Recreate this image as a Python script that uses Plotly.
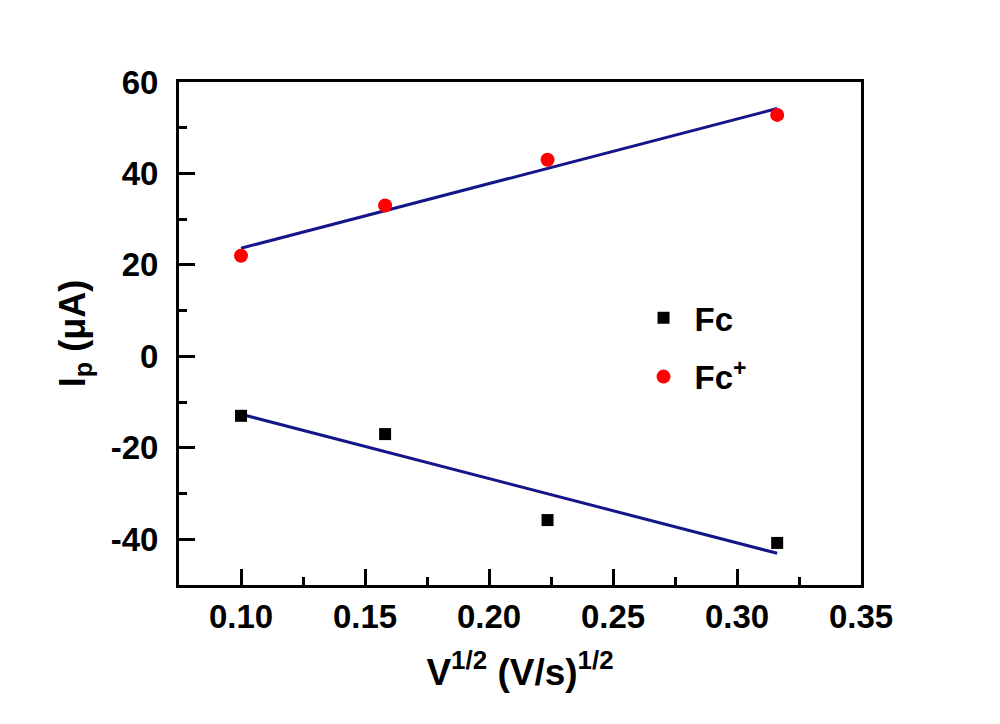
import numpy as np
import plotly.graph_objects as go

sqrt_v = [0.1, 0.1581, 0.2236, 0.3162]
fc_plus = [22, 33, 43, 52.8]
fc = [-13, -17, -35.8, -40.8]
x_ticks = [0.10, 0.15, 0.20, 0.25, 0.30, 0.35]
y_ticks = [-40, -20, 0, 20, 40, 60]

FONT = "Liberation Sans, Arial, sans-serif"
fig = go.Figure()

def fit(x, y):
    k, b = np.polyfit(x, y, 1)
    xs = [min(x), max(x)]
    return xs, [k * v + b for v in xs]

for ys in (fc_plus, fc):
    xs, yl = fit(sqrt_v, ys)
    fig.add_trace(go.Scatter(x=xs, y=yl, mode="lines", line=dict(color="#15158a", width=3),
                             showlegend=False, hoverinfo="skip"))

fig.add_trace(go.Scatter(x=sqrt_v, y=fc, mode="markers", name="Fc", legendgroup="a",
                         marker=dict(symbol="square", size=12, color="black")))
fig.add_trace(go.Scatter(x=sqrt_v, y=fc_plus, mode="markers", name="Fc<sup>+</sup>", legendgroup="b",
                         marker=dict(symbol="circle", size=14, color="#ff0000")))

axis_common = dict(showline=True, linewidth=3, linecolor="black", mirror=True,
                   ticks="inside", ticklen=16, tickwidth=3, tickcolor="black",
                   showgrid=False, zeroline=False,
                   tickfont=dict(family=FONT, size=33, color="black", weight="bold"))

fig.update_xaxes(range=[0.075, 0.35], tickvals=x_ticks, ticktext=[f"{v:.2f}" for v in x_ticks],
                 minor=dict(ticks="inside", ticklen=8, tickwidth=3, tickcolor="black", dtick=0.025, tick0=0.075),
                 ticklabelstandoff=0,
                 title=dict(text="V<sup>1/2</sup> (V/s)<sup>1/2</sup>", standoff=26,
                            font=dict(family=FONT, size=37, color="black", weight="bold")),
                 **axis_common)
fig.update_yaxes(range=[-50, 60], tickvals=y_ticks, ticktext=[str(v) for v in y_ticks],
                 minor=dict(ticks="inside", ticklen=8, tickwidth=3, tickcolor="black", dtick=10, tick0=-50),
                 ticklabelstandoff=11,
                 title=dict(text="I<sub>p</sub> (μA)", standoff=15,
                            font=dict(family=FONT, size=36, color="black", weight="bold")),
                 **axis_common)

fig.update_layout(width=1000, height=724, margin=dict(l=171, r=147, t=74, b=147),
                  paper_bgcolor="white", plot_bgcolor="white",
                  legend=dict(x=0.665, y=0.587, xanchor="left", yanchor="top", bgcolor="rgba(0,0,0,0)",
                              traceorder="grouped", tracegroupgap=13, itemwidth=52,
                              font=dict(family=FONT, size=33, color="black", weight="bold")))

fig.write_html("out.html")
